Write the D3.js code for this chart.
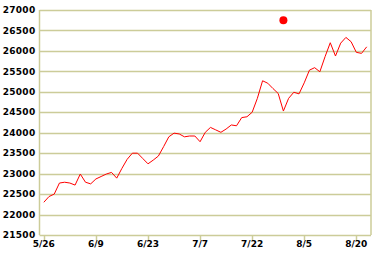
<!DOCTYPE html>
<html>
<head>
<meta charset="utf-8">
<script src="https://cdn.jsdelivr.net/npm/d3@7"></script>
<style>
  body { margin: 0; background: #fff; }
  text { font-family: "DejaVu Sans", Verdana, sans-serif; font-size: 9px; fill: #000; }
</style>
</head>
<body>
<div id="chart"></div>
<script>
// trading day index -> closing value
const values = [
  22300, 22440, 22500, 22770, 22790, 22770, 22720, 22990, 22790, 22750,
  22870, 22930, 22990, 23030, 22890, 23130, 23350, 23500, 23500, 23370,
  23240, 23330, 23430, 23660, 23900, 23990, 23970, 23900, 23920, 23920,
  23780, 24010, 24130, 24070, 24010, 24090, 24190, 24170, 24370, 24390,
  24500, 24840, 25270, 25210, 25080, 24960, 24530, 24840, 24990, 24950,
  25220, 25530, 25590, 25490, 25860, 26200, 25875, 26190, 26330, 26225,
  25965, 25940, 26100
];
const tickIdx = [0, 10, 20, 30, 40, 50, 60];
const tickLabels = ["5/26", "6/9", "6/23", "7/7", "7/22", "8/5", "8/20"];
const yTicks = [21500, 22000, 22500, 23000, 23500, 24000, 24500, 25000, 25500, 26000, 26500, 27000];
// the single marker above the line
const marker = [{ i: 46, v: 26750 }];

const width = 382, height = 258;
const margin = { top: 10, right: 11, bottom: 23, left: 39.5 };

const svg = d3.select("#chart")
  .append("svg")
  .attr("width", width)
  .attr("height", height);

const x = d3.scaleLinear()
  .domain([-0.83, 62.82])
  .range([margin.left, width - margin.right]);

const y = d3.scaleLinear()
  .domain([21500, 27000])
  .range([height - margin.bottom, margin.top]);

const gridColor = "#cccc99";

// horizontal grid lines
svg.append("g")
  .selectAll("line")
  .data(yTicks)
  .enter()
  .append("line")
  .attr("x1", margin.left)
  .attr("x2", width - margin.right)
  .attr("y1", d => Math.round(y(d)) + 0.5)
  .attr("y2", d => Math.round(y(d)) + 0.5)
  .style("stroke", gridColor)
  .style("stroke-width", 1.5);

// left and right borders
[margin.left, width - margin.right].forEach(px => {
  svg.append("line")
    .attr("x1", px).attr("x2", px)
    .attr("y1", y(27000)).attr("y2", y(21500))
    .style("stroke", gridColor)
    .style("stroke-width", 1.5);
});

// y labels
svg.append("g")
  .selectAll("text")
  .data(yTicks)
  .enter()
  .append("text")
  .attr("x", margin.left - 4)
  .attr("y", d => y(d))
  .attr("dy", "0.35em")
  .attr("text-anchor", "end")
  .style("font-weight", "bold")
  .style("letter-spacing", "0.3px")
  .text(d => d);

// x ticks and labels
const xt = svg.append("g")
  .selectAll("g")
  .data(tickIdx)
  .enter()
  .append("g");

xt.append("line")
  .attr("x1", d => Math.round(x(d)) + 0.5)
  .attr("x2", d => Math.round(x(d)) + 0.5)
  .attr("y1", y(21500))
  .attr("y2", y(21500) + 5)
  .style("stroke", gridColor)
  .style("stroke-width", 1.5);

xt.append("text")
  .attr("x", d => x(d))
  .attr("y", y(21500) + 12)
  .attr("text-anchor", "middle")
  .style("font-weight", "bold")
  .text((d, i) => tickLabels[i]);

// price line
const line = d3.line()
  .x((d, i) => x(i))
  .y(d => y(d));

svg.append("path")
  .datum(values)
  .attr("d", line)
  .style("fill", "none")
  .style("stroke", "#ff0000")
  .style("stroke-width", 1);

// marker dot
svg.append("g")
  .selectAll("circle")
  .data(marker)
  .enter()
  .append("circle")
  .attr("cx", d => x(d.i))
  .attr("cy", d => y(d.v))
  .attr("r", 4)
  .style("fill", "#ff0000");
</script>
</body>
</html>
